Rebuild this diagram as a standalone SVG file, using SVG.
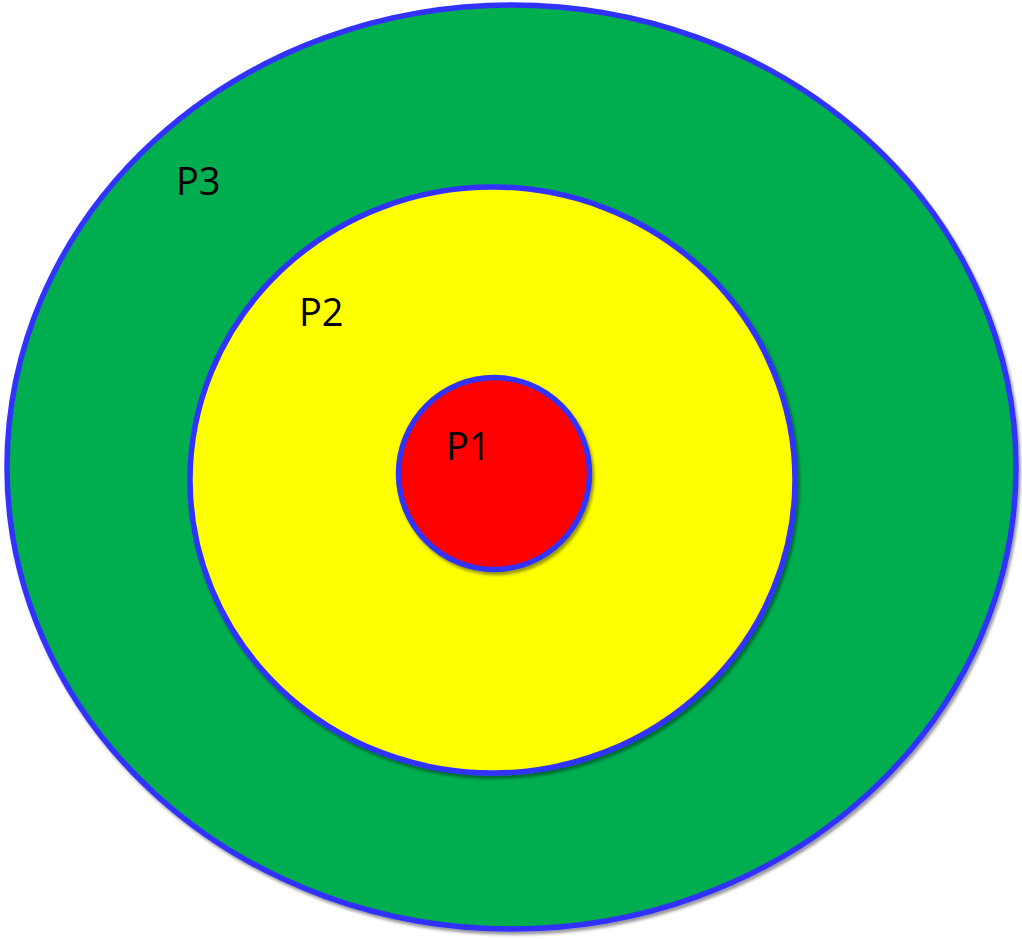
<svg xmlns="http://www.w3.org/2000/svg" width="1022" height="939" viewBox="0 0 1022 939">
<style>
.ring{stroke:#3333FF;stroke-width:5.5;filter:url(#sh)}
.lbl{font-family:"Open Sans","Liberation Sans",sans-serif;font-size:38px;fill:#000}
</style>
<defs>
<filter id="sh" x="-5%" y="-5%" width="110%" height="112%">
<feDropShadow dx="2" dy="3" stdDeviation="1.6" flood-color="#000" flood-opacity="0.4"/>
</filter>
</defs>
<rect width="1022" height="939" fill="#fff"/>
<g id="P3">
<ellipse class="ring" cx="511.5" cy="467" rx="504.5" ry="462" fill="#00AD50"/>
<text class="lbl" x="176" y="195">P3</text>
</g>
<g id="P2">
<ellipse class="ring" cx="492.5" cy="480" rx="302.5" ry="293" fill="#FFFF00"/>
<text class="lbl" x="299" y="326">P2</text>
</g>
<g id="P1">
<ellipse class="ring" cx="494" cy="473.5" rx="95.5" ry="96" fill="#FF0000"/>
<text class="lbl" x="446" y="460">P1</text>
</g>
<g id="connectors"/>
</svg>
